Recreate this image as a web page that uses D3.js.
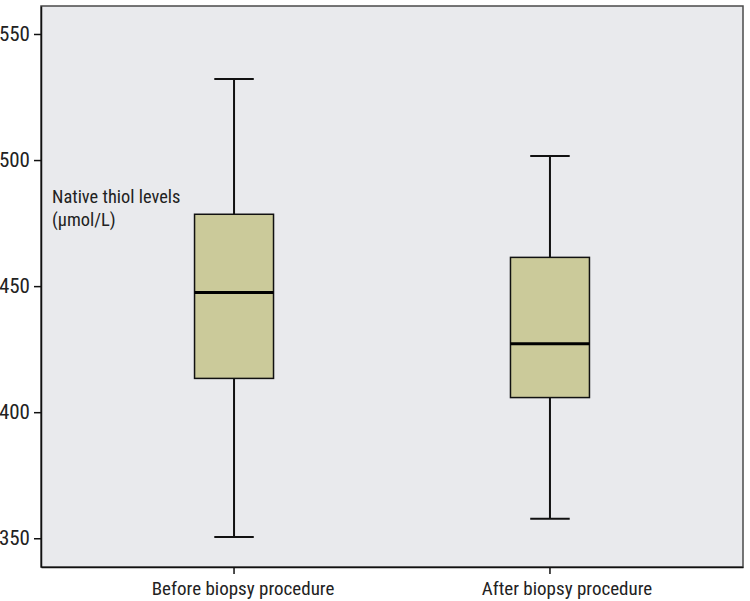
<!DOCTYPE html>
<html>
<head>
<meta charset="utf-8">
<script src="https://cdn.jsdelivr.net/npm/d3@7"></script>
<style>
  body { margin: 0; background: #fff; }
  svg { display: block; }
  svg text { font-family: "Liberation Sans Narrow", "Roboto Condensed", "Roboto", sans-serif; }
</style>
</head>
<body>
<div id="vis"></div>
<script>
// box plot data (umol/L)
const groups = ["Before biopsy procedure", "After biopsy procedure"];
const whiskerLow = [350.5, 357.7];
const q1 = [413.4, 405.8];
const median = [447.5, 427.1];
const q3 = [478.5, 461.4];
const whiskerHigh = [532.1, 501.6];
const yTicks = [350, 400, 450, 500, 550];
const yLabel = ["Native thiol levels", "(\u00b5mol/L)"];

const width = 750, height = 601;
const plotLeft = 41, plotRight = 743, plotTop = 6, plotBottom = 567;

const rows = groups.map((g, i) => ({
  name: g, lo: whiskerLow[i], q1: q1[i], med: median[i], q3: q3[i], hi: whiskerHigh[i]
}));

const svg = d3.select("#vis").append("svg")
    .attr("width", width)
    .attr("height", height);

const x = d3.scaleBand()
    .domain(groups)
    .range([plotLeft, plotRight])
    .paddingInner(0.75)
    .paddingOuter(0.486);

const y = d3.scaleLinear()
    .domain([338.6, 561.1])
    .range([plotBottom, plotTop]);

// plot background + frame
svg.append("rect")
    .attr("x", plotLeft).attr("y", plotTop)
    .attr("width", plotRight - plotLeft).attr("height", plotBottom - plotTop)
    .attr("fill", "#e9eaed")
    .attr("stroke", "#4a4a4a")
    .attr("stroke-width", 1.5);

// y axis
const yAxis = svg.append("g")
    .attr("transform", `translate(${plotLeft},0)`)
    .call(d3.axisLeft(y).tickValues(yTicks).tickSize(7).tickSizeOuter(0).tickPadding(4))
    .attr("font-family", null);
yAxis.select(".domain").attr("stroke", "#111").attr("stroke-width", 1.5);
yAxis.selectAll(".tick line").attr("stroke", "#111").attr("stroke-width", 1.5);
yAxis.selectAll(".tick text")
    .attr("fill", "#222")
    .style("font-size", "21px");

// x axis
const xAxis = svg.append("g")
    .attr("transform", `translate(0,${plotBottom})`)
    .call(d3.axisBottom(x).tickSize(7).tickSizeOuter(0).tickPadding(8))
    .attr("font-family", null);
xAxis.select(".domain").attr("stroke", "#111").attr("stroke-width", 1.5);
xAxis.selectAll(".tick line").attr("stroke", "#111").attr("stroke-width", 1.5);
// labels in the original sit a little right of their ticks
xAxis.selectAll(".tick text")
    .attr("fill", "#222")
    .attr("dx", (d, i) => i ? 17 : 9)
    .style("font-size", "19px");

// y label inside the plot
svg.append("text")
    .attr("x", 52)
    .attr("y", 203)
    .attr("fill", "#222")
    .style("font-size", "18.4px")
  .selectAll("tspan")
  .data(yLabel)
  .join("tspan")
    .attr("x", 52)
    .attr("dy", (d, i) => i ? 22.5 : 0)
    .text(d => d);

const bw = x.bandwidth();
const box = svg.append("g")
  .selectAll("g")
  .data(rows)
  .join("g")
    .attr("transform", d => `translate(${x(d.name)},0)`);

// whiskers
box.append("line")
    .attr("x1", bw / 2).attr("x2", bw / 2)
    .attr("y1", d => y(d.hi)).attr("y2", d => y(d.lo))
    .attr("stroke", "#111").attr("stroke-width", 2);
box.selectAll(".cap")
  .data(d => [d.lo, d.hi])
  .join("line")
    .attr("class", "cap")
    .attr("x1", bw / 4).attr("x2", bw * 3 / 4)
    .attr("y1", d => y(d)).attr("y2", d => y(d))
    .attr("stroke", "#111").attr("stroke-width", 2);

// boxes
box.append("rect")
    .attr("x", 0)
    .attr("width", bw)
    .attr("y", d => y(d.q3))
    .attr("height", d => y(d.q1) - y(d.q3))
    .attr("fill", "#cbca9a")
    .attr("stroke", "#111")
    .attr("stroke-width", 1.5);

box.append("line")
    .attr("x1", 0).attr("x2", bw)
    .attr("y1", d => y(d.med)).attr("y2", d => y(d.med))
    .attr("stroke", "#000").attr("stroke-width", 3);
</script>
</body>
</html>
